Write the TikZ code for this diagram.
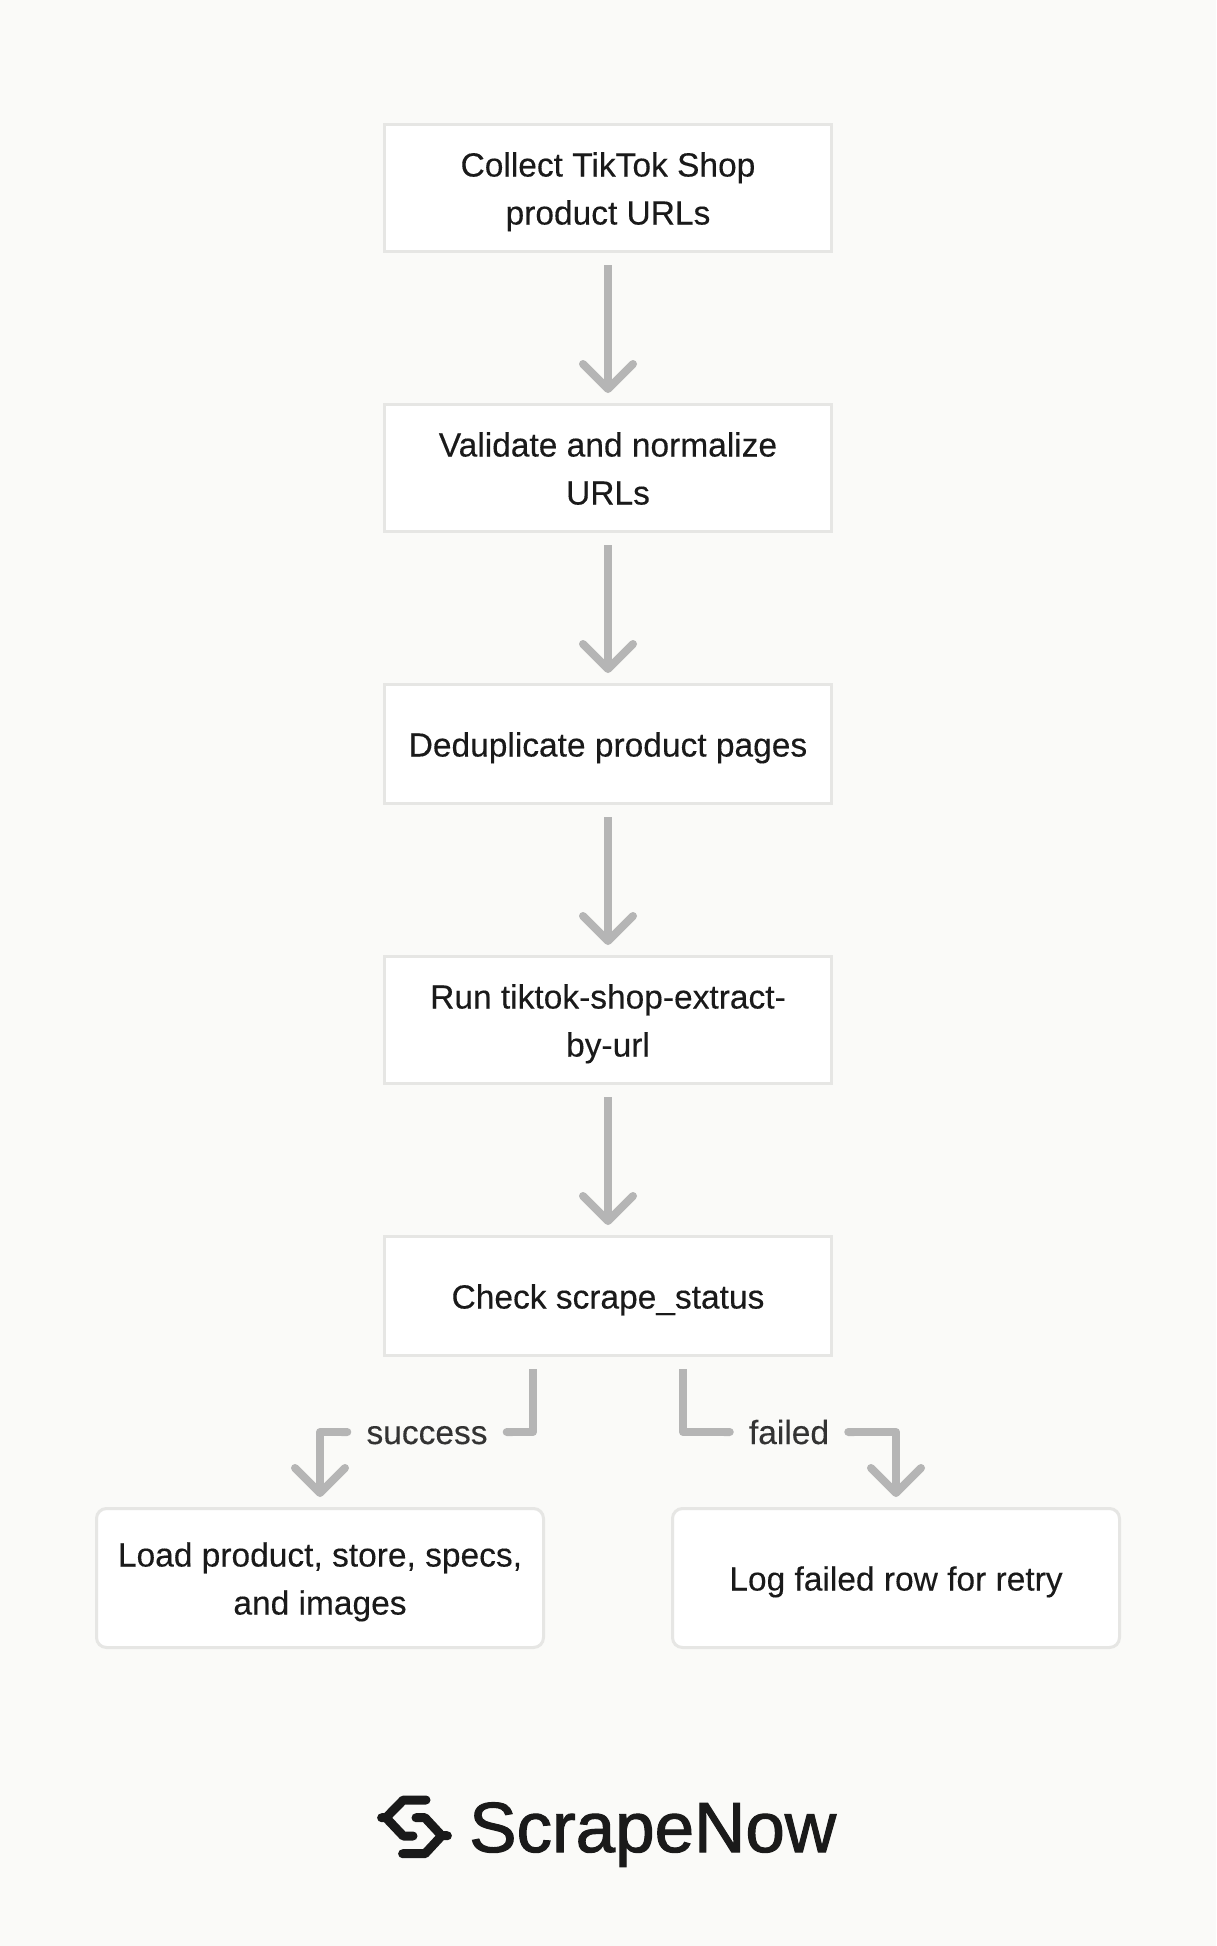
\documentclass[tikz,border=0pt]{standalone}
\usepackage{fontspec}
\setmainfont{Liberation Sans}[FakeBold=0.25]
\newfontfamily\brandfont{Liberation Sans}[FakeBold=1.5]
\usetikzlibrary{arrows.meta}
\definecolor{pagebg}{HTML}{FAFAF8}
\definecolor{boxline}{HTML}{E6E6E4}
\definecolor{flowgray}{HTML}{B5B5B5}
\definecolor{ink}{HTML}{1A1A1A}
\definecolor{labelink}{HTML}{333333}
\newcommand{\toprow}{\rule{0pt}{37pt}}
\tikzset{
	stepbox/.style={rectangle,draw=boxline,fill=white,line width=3pt,minimum width=447pt,align=center,text=ink,font=\fontsize{33.5}{48}\selectfont,
		execute at end node={\rule[-12pt]{0pt}{0pt}}},
	endbox/.style={stepbox,rounded corners=10pt,minimum height=139pt},
	flowhead/.style={-{Straight Barb[length=25pt,width=50pt,line width=8pt,round]}},
	flow/.style={draw=flowgray,line width=8pt,flowhead},
	branchlabel/.style={text=labelink,inner xsep=15pt,inner ysep=0pt,text height=24pt,text depth=0pt,font=\fontsize{33.5}{48}\selectfont},
}

\begin{document}
\begin{tikzpicture}[x=1pt,y=-1pt]
	\useasboundingbox (0,0) rectangle (1216,1946);
	\fill[pagebg] (0,0) rectangle (1216,1946);

	\node[stepbox,minimum height=127pt] (collect) at (608,188) {\toprow Collect TikTok Shop\\product URLs};
	\node[stepbox,minimum height=127pt] (validate) at (608,468) {\toprow Validate and normalize\\URLs};
	\node[stepbox,minimum height=119pt] (dedupe) at (608,744) {\toprow Deduplicate product pages};
	\node[stepbox,minimum height=127pt] (run) at (608,1020) {\toprow Run tiktok-shop-extract-\\by-url};
	\node[stepbox,minimum height=119pt] (check) at (608,1296) {\toprow Check scrape\_status};
	\node[endbox] (load) at (320,1578) {\toprow Load product, store, specs,\\and images};
	\node[endbox] (log) at (896,1578) {\toprow Log failed row for retry};

	\node[branchlabel] (success) at (427,1432) {success};
	\node[branchlabel] (failed) at (789,1432) {failed};
	\coordinate (okstart) at (533,1369);
	\coordinate (badstart) at (683,1369);

	\draw[flow,shorten <=12pt,shorten >=10pt] (collect.south) -- (validate.north);
	\draw[flow,shorten <=12pt,shorten >=10pt] (validate.south) -- (dedupe.north);
	\draw[flow,shorten <=12pt,shorten >=10pt] (dedupe.south) -- (run.north);
	\draw[flow,shorten <=12pt,shorten >=10pt] (run.south) -- (check.north);

	% two branches, broken by their labels
	\draw[draw=flowgray,line width=8pt,line join=round,-{Round Cap}] (okstart) |- (success.east);
	\draw[flow,line join=round,{Round Cap}-{Straight Barb[length=25pt,width=50pt,line width=8pt,round]},shorten >=10pt] (success.west) -| (load.north);
	\draw[draw=flowgray,line width=8pt,line join=round,-{Round Cap}] (badstart) |- (failed.west);
	\draw[flow,line join=round,{Round Cap}-{Straight Barb[length=25pt,width=50pt,line width=8pt,round]},shorten >=10pt] (failed.east) -| (log.north);

	% logo
	\draw[ink,line width=9pt,line cap=round,line join=round] (426,1800) -- (403.3,1800) -- (386,1817.7) -- (403.3,1836) -- (413,1836) (381.6,1817.7) -- (386,1817.7);
	\draw[ink,line width=9pt,line cap=round,line join=round] (416,1817.7) -- (425,1817.7) -- (441.7,1835.7) -- (425,1853.7) -- (402.6,1853.7) (441.7,1835.7) -- (447.4,1835.7);
	\node[text=ink,anchor=base west,inner sep=0pt,font=\brandfont\fontsize{71}{71}\selectfont] (brand) at (469,1852) {ScrapeNow};
\end{tikzpicture}
\end{document}
